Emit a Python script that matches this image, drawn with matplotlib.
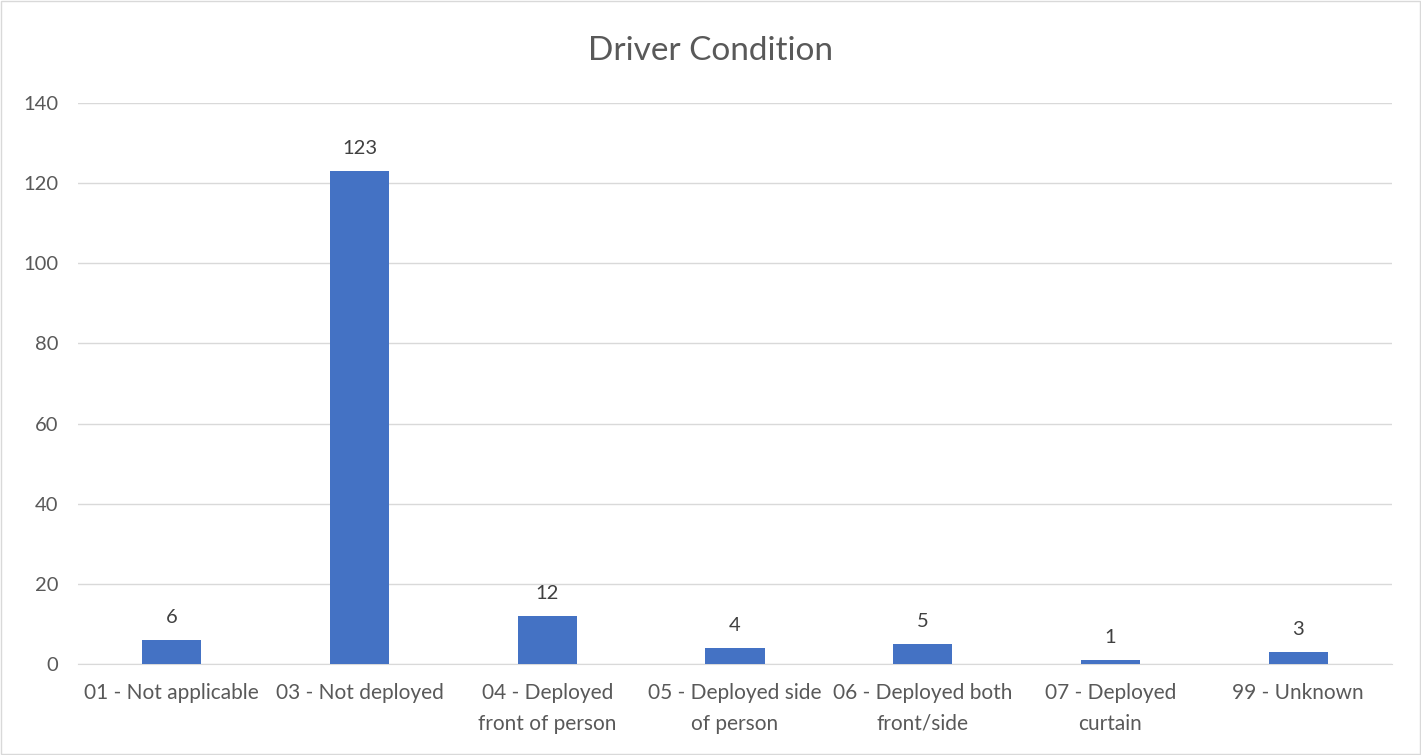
import matplotlib.pyplot as plt
from matplotlib.patches import Rectangle

plt.rcParams['font.family'] = ['Lato', 'DejaVu Sans']

categories = ['01 - Not applicable', '03 - Not deployed', '04 - Deployed\nfront of person',
              '05 - Deployed side\nof person', '06 - Deployed both\nfront/side',
              '07 - Deployed\ncurtain', '99 - Unknown']
counts = [6, 123, 12, 4, 5, 1, 3]
yticks = [0, 20, 40, 60, 80, 100, 120, 140]

text_col = '#595959'
bar_col = '#4472C4'
grid_col = '#D9D9D9'

fig = plt.figure(figsize=(14.21, 7.55), dpi=100)
ax = fig.add_axes([0.0549, 0.1205, 0.9247, 0.7431])

x = range(len(categories))
bars = ax.bar(x, counts, width=0.315, color=bar_col, zorder=3)
for xi, v in zip(x, counts):
    ax.text(xi, v + 3.5, str(v), ha='center', va='bottom', fontsize=14.5, color='#404040')

ax.set_xlim(-0.5, len(categories) - 0.5)
ax.set_ylim(0, 140)
ax.set_yticks(yticks)
ax.set_xticks(list(x))
ax.set_xticklabels(categories, fontsize=15, color=text_col, linespacing=1.65)
ax.tick_params(axis='y', labelsize=14.5, labelcolor=text_col, length=0, pad=14)
ax.tick_params(axis='x', length=0, pad=14)
ax.yaxis.grid(True, color=grid_col, linewidth=1, zorder=0)
for s in ['top', 'right', 'left']:
    ax.spines[s].set_visible(False)
ax.spines['bottom'].set_color(grid_col)

fig.text(0.5, 0.933, 'Driver Condition', ha='center', va='center', fontsize=24, color=text_col)

fig.patches.append(Rectangle((0.001, 0.001), 0.998, 0.998, transform=fig.transFigure,
                             fill=False, edgecolor='#D9D9D9', linewidth=1))

fig.savefig('out.png', dpi=100)
